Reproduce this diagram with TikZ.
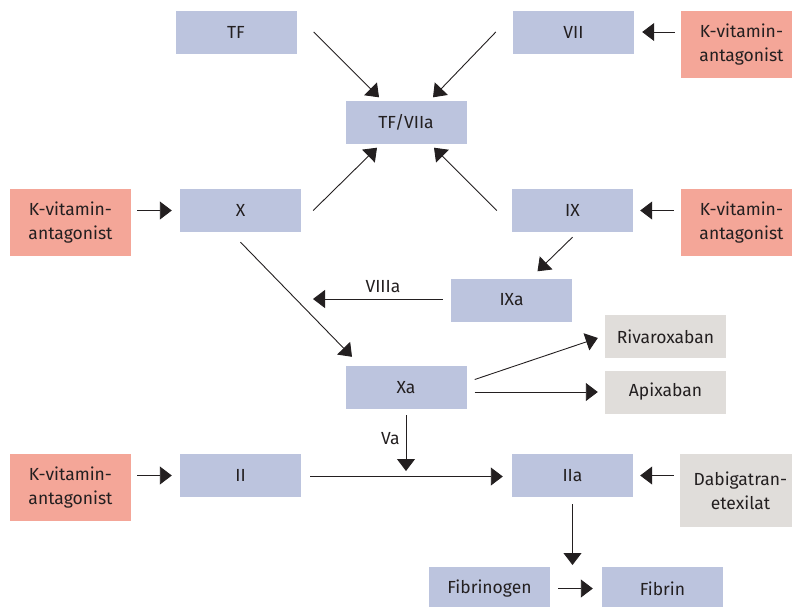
\documentclass[tikz,border=0pt]{standalone}
\usepackage{fontspec}
\setmainfont{Fira Sans}
\usetikzlibrary{arrows.meta,calc}
\definecolor{bluebox}{HTML}{BCC4DE}
\definecolor{redbox}{HTML}{F4A698}
\definecolor{greybox}{HTML}{E0DDDA}
\definecolor{ink}{HTML}{231F20}
\begin{document}
\begin{tikzpicture}[x=1pt,y=-1pt,
  every node/.style={font=\fontsize{17.5}{24}\selectfont, text=ink, inner sep=0pt},
  fbox/.style={fill=bluebox, minimum width=121pt, minimum height=43pt, align=center},
  kbox/.style={fill=redbox, minimum width=121pt, minimum height=67pt, align=center},
  gbox/.style={fill=greybox, minimum width=121pt, minimum height=43pt, align=center},
  arr/.style={draw=ink, line width=0.9pt, -{Triangle[length=12pt,width=18pt]}}]
\useasboundingbox (0,0) rectangle (792,606);
\clip (0,0) rectangle (792,606);
% nodes
\node[fbox] (TF) at (236,32) {TF};
\node[fbox] (VII) at (573.5,32) {VII};
\node[kbox] (kv1) at (741.5,44.5) {K-vitamin-\\antagonist};
\node[fbox] (tfv) at (406,122) {TF/VIIa};
\node[kbox] (kv2) at (70.5,222.5) {K-vitamin-\\antagonist};
\node[fbox] (X) at (240.5,210.5) {X};
\node[fbox] (IX) at (572.5,210.5) {IX};
\node[kbox] (kv3) at (741.5,222.5) {K-vitamin-\\antagonist};
\node[fbox] (IXa) at (511.5,300) {IXa};
\node[gbox] (riva) at (665.5,336.5) {Rivaroxaban};
\node[gbox] (api) at (665.5,392) {Apixaban};
\node[fbox] (Xa) at (406,387.5) {Xa};
\node[fbox] (II) at (240.5,475.5) {II};
\node[kbox] (kv4) at (70.5,487.5) {K-vitamin-\\antagonist};
\node[fbox] (IIa) at (572.5,475.5) {IIa};
\node[gbox, minimum height=73pt] (dab) at (740.5,490.5) {Dabigatran-\\etexilat};
\node[fbox] (fgen) at (489.5,588.5) {Fibrinogen};
\node[fbox] (fib) at (662.5,588.5) {Fibrin};
% free ends
\coordinate (viiia) at (313,299);
\coordinate (vaend) at (406,471);
\coordinate (fibend) at (572.5,565);
% connectors (yshift is in canvas direction: positive = up)
\draw[arr] ([xshift=17pt]TF.east) -- ([xshift=-27pt,yshift=3pt]tfv.north);
\draw[arr] ([xshift=-17pt]VII.west) -- ([xshift=27pt,yshift=3pt]tfv.north);
\draw[arr] ([xshift=-6pt]kv1.west |- VII.east) -- ([xshift=8pt]VII.east);
\draw[arr] ([xshift=12pt]X.east) -- ([xshift=-29pt,yshift=-4pt]tfv.south);
\draw[arr] ([xshift=-15pt]IX.west) -- ([xshift=28pt,yshift=-4pt]tfv.south);
\draw[arr] ([xshift=6pt]kv2.east |- X.west) -- ([xshift=-8pt]X.west);
\draw[arr] ([xshift=-7pt]kv3.west |- IX.east) -- ([xshift=7pt]IX.east);
\draw[arr] ([yshift=-5pt]IX.south) -- ([xshift=26pt,yshift=7pt]IXa.north);
\draw[arr] ([xshift=-8pt,yshift=1pt]IXa.west) -- node[above=6pt, xshift=5pt]{VIIIa} (viiia);
\draw[arr] ([yshift=-10pt]X.south) -- ([xshift=-54pt,yshift=9pt]Xa.north);
\draw[arr] ([xshift=8pt,yshift=8pt]Xa.east) -- ([xshift=-7pt,yshift=-1.5pt]riva.west);
\draw[arr] ([xshift=8pt,yshift=-4.5pt]Xa.east) -- ([xshift=-7pt]api.west);
\draw[arr] ([yshift=-6pt]Xa.south) -- node[left=6pt, pos=0.42]{Va} (vaend);
\draw[arr] ([xshift=6pt]kv4.east |- II.west) -- ([xshift=-8pt]II.west);
\draw[arr] ([xshift=9pt,yshift=-1pt]II.east) -- ([xshift=-9pt,yshift=-1pt]IIa.west);
\draw[arr] ([xshift=-6pt]dab.west |- IIa.east) -- ([xshift=7pt]IIa.east);
\draw[arr] ([yshift=-7pt]IIa.south) -- (fibend);
\draw[arr] ([xshift=8pt]fgen.east) -- ([xshift=-9pt]fib.west);
\end{tikzpicture}
\end{document}
